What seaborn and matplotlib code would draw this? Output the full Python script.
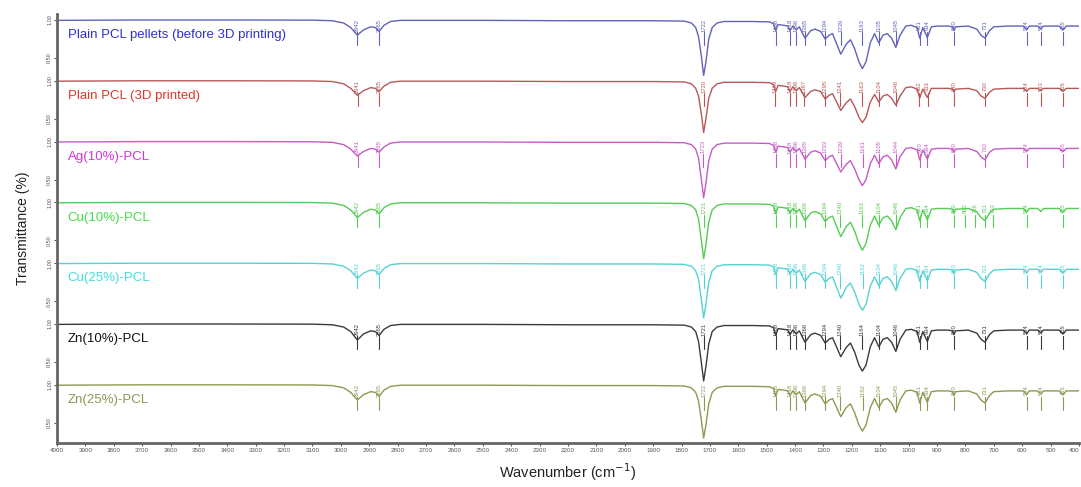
import numpy as np
import pandas as pd
import matplotlib
matplotlib.use("Agg")
import matplotlib.pyplot as plt
import seaborn as sns

# // wavenumber grid (cm-1)
wn = [4000, 3700, 3400, 3100, 3030, 2990, 2965, 2942, 2920, 2895,
      2878, 2865, 2848, 2825, 2790, 2500, 2200, 1900, 1790, 1765,
      1750, 1740, 1730, 1722, 1714, 1704, 1692, 1675, 1650, 1550,
      1490, 1476, 1468, 1460, 1440, 1425, 1418, 1408, 1396, 1385,
      1365, 1345, 1330, 1310, 1294, 1280, 1268, 1239, 1220, 1205,
      1190, 1175, 1163, 1150, 1135, 1120, 1105, 1090, 1075, 1060,
      1045, 1030, 1010, 990, 970, 961, 950, 934, 920, 900,
      860, 845, 840, 835, 790, 760, 745, 731, 715, 700,
      650, 595, 584, 575, 545, 534, 525, 470, 455, 445,
      400]

# // transmittance of each sample
t_pellet = [.995, 1.0, 1.0, .998, .99, .96, .90, .80, .87, .91,
            .90, .85, .93, .98, .995, .995, .99, .99, .985, .96,
            .90, .78, .52, .27, .45, .75, .90, .96, .98, .98,
            .975, .95, .86, .94, .93, .92, .86, .92, .87, .91,
            .76, .86, .88, .85, .75, .80, .82, .55, .68, .74,
            .62, .45, .36, .45, .70, .82, .70, .80, .82, .76,
            .64, .80, .92, .93, .90, .76, .90, .77, .91, .92,
            .92, .91, .86, .91, .92, .88, .80, .76, .86, .91,
            .92, .92, .87, .92, .92, .88, .92, .92, .87, .92,
            .92]
t_printed = [.995, 1.0, 1.0, .998, .99, .96, .90, .81, .87, .91,
             .90, .86, .93, .98, .995, .995, .99, .99, .985, .96,
             .90, .80, .56, .32, .50, .77, .90, .96, .98, .98,
             .975, .95, .86, .94, .93, .92, .86, .92, .87, .91,
             .78, .86, .88, .86, .76, .81, .83, .61, .71, .76,
             .66, .52, .45, .52, .72, .82, .72, .80, .82, .77,
             .68, .80, .91, .92, .89, .77, .89, .78, .90, .90,
             .90, .89, .85, .89, .90, .87, .80, .77, .85, .89,
             .90, .90, .86, .90, .90, .87, .90, .90, .86, .90,
             .90]
t_ag10 = [.995, 1.0, 1.0, .998, .99, .96, .90, .81, .87, .91,
          .90, .86, .93, .98, .995, .995, .99, .99, .985, .96,
          .90, .78, .50, .26, .45, .75, .90, .96, .98, .98,
          .975, .95, .86, .94, .93, .92, .86, .92, .87, .91,
          .77, .86, .88, .85, .75, .80, .82, .60, .70, .75,
          .64, .50, .42, .50, .71, .82, .71, .80, .82, .76,
          .64, .80, .91, .92, .89, .76, .89, .77, .90, .91,
          .91, .90, .86, .90, .91, .87, .80, .76, .86, .90,
          .91, .91, .87, .91, .91, .91, .91, .91, .87, .91,
          .91]
t_cu10 = [.995, 1.0, 1.0, .998, .99, .96, .90, .80, .87, .91,
          .90, .85, .93, .98, .995, .995, .99, .99, .985, .96,
          .90, .78, .50, .26, .44, .74, .90, .96, .98, .98,
          .975, .95, .85, .94, .93, .92, .86, .92, .87, .91,
          .76, .86, .88, .85, .75, .80, .82, .55, .68, .74,
          .62, .46, .37, .46, .70, .82, .70, .80, .82, .76,
          .64, .80, .92, .93, .90, .76, .90, .77, .91, .92,
          .92, .91, .86, .91, .92, .88, .80, .76, .86, .91,
          .92, .92, .87, .92, .92, .88, .92, .92, .87, .92,
          .92]
t_cu25 = [.995, 1.0, 1.0, .998, .99, .96, .90, .80, .87, .91,
          .90, .85, .93, .98, .995, .995, .99, .99, .985, .96,
          .90, .79, .52, .28, .46, .75, .90, .96, .98, .98,
          .975, .95, .85, .94, .93, .92, .86, .92, .87, .91,
          .76, .86, .88, .85, .75, .80, .82, .54, .68, .74,
          .62, .46, .38, .46, .70, .82, .70, .80, .82, .76,
          .64, .80, .92, .93, .90, .76, .90, .77, .91, .92,
          .92, .91, .86, .91, .92, .88, .80, .76, .86, .91,
          .92, .92, .87, .92, .92, .88, .92, .92, .87, .92,
          .92]
t_zn10 = [.995, 1.0, 1.0, .998, .99, .96, .90, .79, .87, .91,
          .90, .85, .93, .98, .995, .995, .99, .99, .985, .96,
          .90, .77, .49, .25, .44, .74, .90, .96, .98, .98,
          .975, .95, .85, .94, .93, .92, .86, .92, .87, .91,
          .76, .86, .88, .85, .75, .80, .82, .57, .69, .75,
          .63, .46, .38, .46, .70, .82, .70, .80, .82, .76,
          .64, .80, .92, .93, .90, .76, .90, .77, .91, .92,
          .92, .91, .86, .91, .92, .88, .80, .76, .86, .91,
          .92, .92, .87, .92, .92, .88, .92, .92, .87, .92,
          .92]
t_zn25 = [.995, 1.0, 1.0, .998, .99, .96, .90, .80, .87, .91,
          .90, .85, .93, .98, .995, .995, .99, .99, .985, .96,
          .90, .79, .53, .30, .47, .75, .90, .96, .98, .98,
          .975, .95, .85, .94, .93, .92, .86, .92, .87, .91,
          .76, .86, .88, .85, .75, .80, .82, .58, .70, .75,
          .63, .47, .39, .47, .70, .82, .70, .80, .82, .76,
          .64, .80, .92, .93, .90, .76, .90, .77, .91, .92,
          .92, .91, .86, .91, .92, .88, .80, .76, .86, .91,
          .92, .92, .87, .92, .92, .88, .92, .92, .87, .92,
          .92]

# // labelled peaks
pk_pellet = [2942, 2865, 1722, 1468, 1418, 1396, 1365, 1294, 1239, 1163, 1105, 1045, 961, 934, 840, 731, 584, 534, 455]
pk_printed = [2941, 2865, 1720, 1469, 1418, 1396, 1367, 1295, 1241, 1163, 1104, 1046, 962, 933, 840, 730, 584, 533, 455]
pk_ag10 = [2941, 2865, 1723, 1468, 1418, 1396, 1365, 1293, 1239, 1161, 1105, 1044, 960, 934, 840, 730, 584, 455]
pk_cu10 = [2942, 2865, 1721, 1468, 1418, 1396, 1366, 1294, 1240, 1163, 1104, 1046, 961, 934, 840, 800, 766, 731, 703, 584, 455]
pk_cu25 = [2942, 2865, 1721, 1468, 1418, 1396, 1366, 1294, 1240, 1162, 1104, 1046, 961, 934, 840, 731, 584, 534, 455]
pk_zn10 = [2942, 2865, 1721, 1468, 1418, 1396, 1366, 1294, 1240, 1164, 1104, 1046, 961, 934, 840, 731, 584, 534, 455]
pk_zn25 = [2942, 2865, 1722, 1468, 1418, 1396, 1366, 1294, 1240, 1162, 1104, 1045, 961, 934, 840, 731, 584, 534, 455]

names = ["Plain PCL pellets (before 3D printing)", "Plain PCL (3D printed)", "Ag(10%)-PCL",
         "Cu(10%)-PCL", "Cu(25%)-PCL", "Zn(10%)-PCL", "Zn(25%)-PCL"]
series = [t_pellet, t_printed, t_ag10, t_cu10, t_cu25, t_zn10, t_zn25]
peaks = [pk_pellet, pk_printed, pk_ag10, pk_cu10, pk_cu25, pk_zn10, pk_zn25]
line_cols = ["#6262b8", "#b65858", "#c45cc4", "#55cc55", "#55d2d2", "#3a3a3a", "#8c9a52"]
text_cols = ["#2f2fd0", "#e5352d", "#d435d4", "#45dd45", "#45dddd", "#111111", "#8c9a55"]

step = 0.8

sns.set_theme(style="white")
plt.rcParams['font.family'] = ['Liberation Sans', 'DejaVu Sans']

fig = plt.figure(figsize=(10.81, 4.87), dpi=100)
ax = fig.add_axes([0.0527, 0.0903, 0.9454, 0.881])

rows = []
for i, (name, t) in enumerate(zip(names, series)):
    for w, v in zip(wn, t):
        rows.append({"wn": w, "T": v - i * step, "sample": name})
df = pd.DataFrame(rows)

sns.lineplot(data=df, x="wn", y="T", hue="sample", palette=dict(zip(names, line_cols)),
             sort=False, estimator=None, linewidth=1.0, legend=False, ax=ax)

for i, name in enumerate(names):
    off = -i * step
    ax.text(3962, off + 0.80, name, color=text_cols[i], fontsize=9.5, va='center', ha='left')
    for p in peaks[i]:
        ax.text(p, off + 0.93, str(p), rotation=90, fontsize=4.2, color=line_cols[i],
                ha='center', va='center')
        ax.plot([p, p], [off + 0.84, off + 0.67], color=line_cols[i], lw=0.8)

ax.set_xlim(4000, 400)
ax.set_ylim(1 - 423 / 76, 1 + 6 / 76)

yt = []
ytl = []
for i in range(len(names)):
    yt += [1.0 - i * step, 0.5 - i * step]
    ytl += ["1.00", "0.50"]
ax.set_yticks(yt)
ax.set_yticklabels(ytl, rotation=90, va='center', fontsize=4, color='#444444')
xt = list(range(4000, 399, -100))
ax.set_xticks(xt)
ax.set_xticklabels([str(v) for v in xt], fontsize=4.5, color='#555555')
ax.get_xticklabels()[-1].set_ha('right')
ax.tick_params(axis='both', which='both', length=2, width=0.8, direction='out', pad=1.5,
               left=True, bottom=True, colors='#555555')

for s in ['top', 'right']:
    ax.spines[s].set_visible(False)
for s in ['left', 'bottom']:
    ax.spines[s].set_color('#666666')
    ax.spines[s].set_linewidth(2)

ax.set_xlabel("Wavenumber (cm$^{-1}$)", fontsize=10.5, color='#222222', labelpad=6)
ax.set_ylabel("Transmittance (%)", fontsize=10, color='#222222', labelpad=12)

fig.savefig("out.png", dpi=100)
